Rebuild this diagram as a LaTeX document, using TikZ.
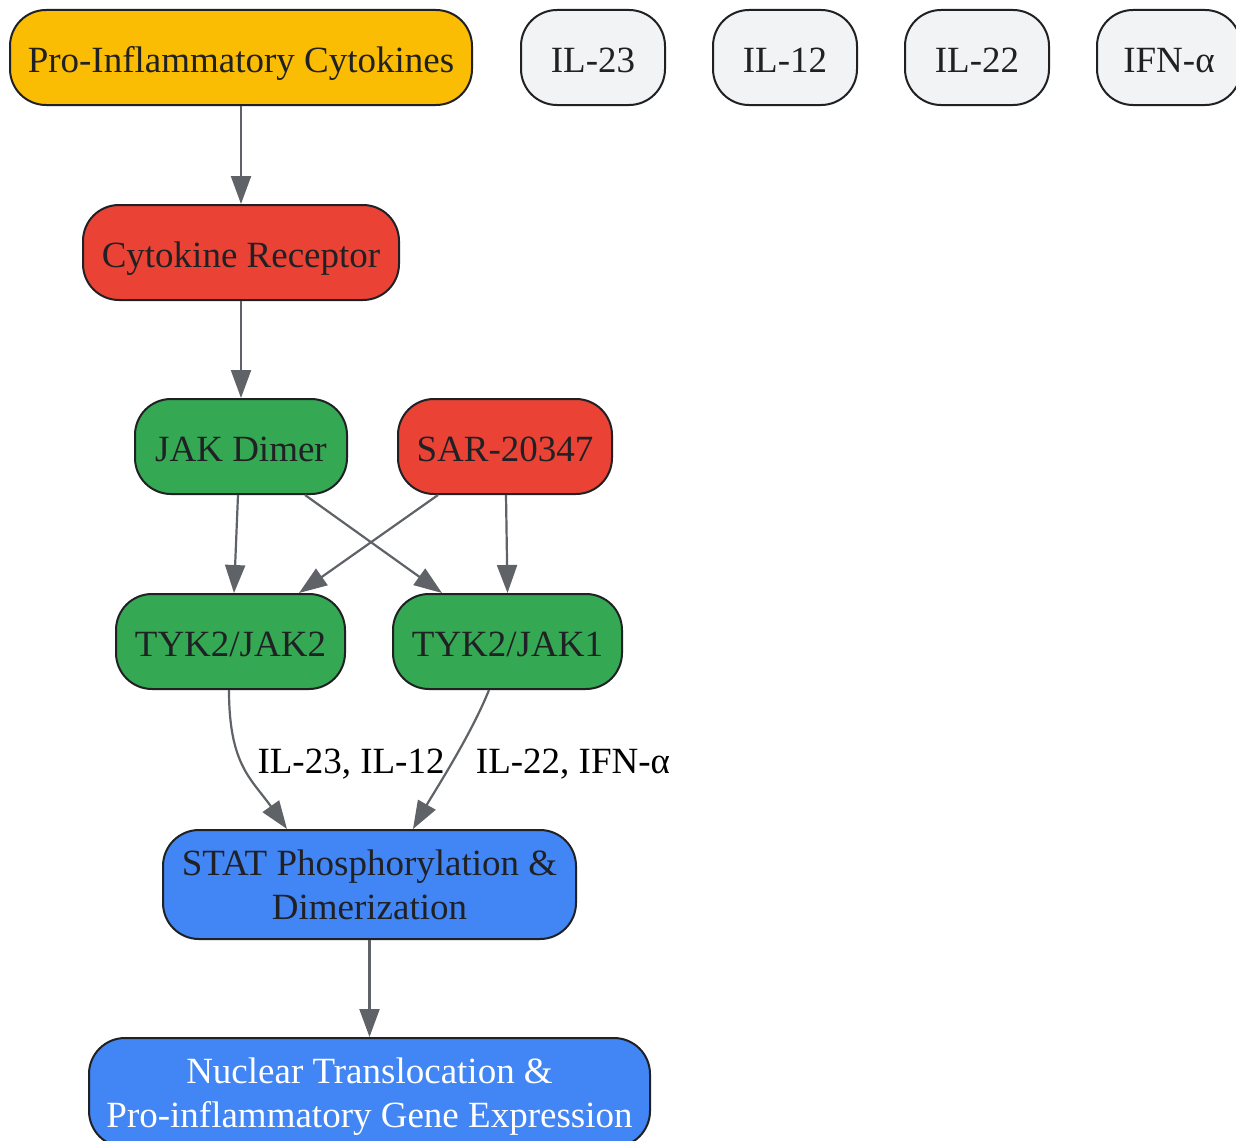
\documentclass[tikz,border=0pt]{standalone}
\usepackage{fontspec}
\setmainfont{Liberation Serif}
\usetikzlibrary{arrows.meta}
\definecolor{cyellow}{HTML}{FBBC04}
\definecolor{cred}{HTML}{EA4335}
\definecolor{cgreen}{HTML}{34A853}
\definecolor{cblue}{HTML}{4285F4}
\definecolor{cgray}{HTML}{F1F3F4}
\definecolor{cborder}{HTML}{202124}
\definecolor{cedge}{HTML}{5F6368}
\tikzset{
  box/.style={draw=cborder, line width=2pt, rounded corners=36pt, inner sep=0pt,
    minimum height=95pt, text=cborder, align=center,
    font=\fontsize{37}{44}\selectfont},
  onebox/.style={box, text height=38pt, text depth=8pt},
  twobox/.style={box, minimum height=109pt, text depth=0pt},
  conn/.style={draw=cedge, line width=2.2pt, -{Triangle[length=28pt,width=20pt]}},
  elabel/.style={text=black, font=\fontsize{37}{44}\selectfont, inner sep=0pt}
}
\begin{document}
\begin{tikzpicture}[x=1pt,y=1pt]
\useasboundingbox (0,0) rectangle (1236,-1140);
\fill[white] (0,0) rectangle (1236,-1140);
\node[onebox, fill=cyellow, minimum width=462pt] (pro) at (241,-57.5) {Pro-Inflammatory Cytokines};
\node[onebox, fill=cgray, minimum width=144pt] (il23) at (593,-57.5) {IL-23};
\node[onebox, fill=cgray, minimum width=144pt] (il12) at (785,-57.5) {IL-12};
\node[onebox, fill=cgray, minimum width=144pt] (il22) at (977,-57.5) {IL-22};
\node[onebox, fill=cgray, minimum width=144pt] (ifn) at (1169,-57.5) {IFN-α};
\node[onebox, fill=cred, minimum width=316pt] (rec) at (241,-252.5) {Cytokine Receptor};
\node[onebox, fill=cgreen, minimum width=212pt] (jak) at (241,-446.5) {JAK Dimer};
\node[onebox, fill=cred, minimum width=214pt] (sar) at (505,-446.5) {SAR-20347};
\node[onebox, fill=cgreen, minimum width=229pt] (tj2) at (230.5,-641.5) {TYK2/JAK2};
\node[onebox, fill=cgreen, minimum width=229pt] (tj1) at (507.5,-641.5) {TYK2/JAK1};
\node[twobox, fill=cblue, minimum width=413pt] (stat) at (369.5,-884.5) {STAT Phosphorylation \&\\Dimerization};
\node[twobox, fill=cblue, minimum width=561pt, text=white] (nuc) at (369.5,-1092.5) {Nuclear Translocation \&\\Pro-inflammatory Gene Expression};

\draw[conn] (pro.south) -- (rec.north);
\draw[conn] (rec.south) -- (jak.north);
\draw[conn] ([xshift=-3pt]jak.south) -- ([xshift=3.5pt]tj2.north);
\draw[conn] ([xshift=64pt]jak.south) -- ([xshift=-65.5pt]tj1.north);
\draw[conn] ([xshift=-67pt]sar.south) -- ([xshift=68.5pt]tj2.north);
\draw[conn] ([xshift=1pt]sar.south) -- ([xshift=0pt]tj1.north);
\draw[conn] ([xshift=-1.5pt]tj2.south) .. controls ([xshift=-1.5pt,yshift=-75pt]tj2.south) and ([xshift=-118pt,yshift=50pt]stat.north) .. ([xshift=-82.5pt]stat.north);
\draw[conn] ([xshift=-18.5pt]tj1.south) .. controls ([xshift=-37pt,yshift=-46pt]tj1.south) and ([xshift=64pt,yshift=36pt]stat.north) .. ([xshift=43.5pt]stat.north);
\draw[conn] (stat.south) -- (nuc.north);

\node[elabel] (l1) at (351,-764) {IL-23, IL-12};
\node[elabel] (l2) at (573,-764) {IL-22, IFN-α};
\end{tikzpicture}
\end{document}
